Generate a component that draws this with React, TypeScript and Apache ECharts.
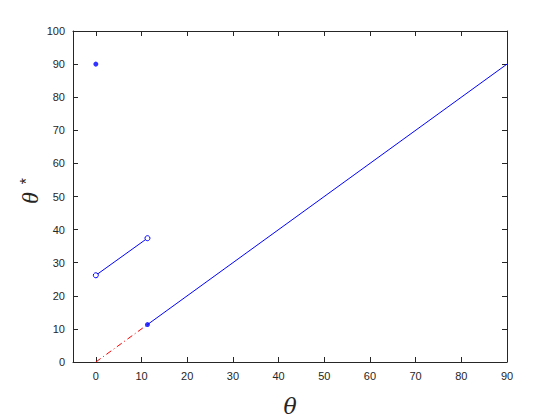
import React, { useEffect, useRef } from "react";
import * as echarts from "echarts";

const xTicks = [0, 10, 20, 30, 40, 50, 60, 70, 80, 90];
const yTicks = [0, 10, 20, 30, 40, 50, 60, 70, 80, 90, 100];
const isolatedPoint = [[0, 90]];
const openSegment = [[0, 26.2], [11.3, 37.4]];
const dashedSegment = [[0, 0], [11.3, 11.3]];
const mainLine = [[11.3, 11.3], [90, 90]];
const mainStart = [[11.3, 11.3]];

const AX = "#262626";
const BLUE = "#0000ff";
const FONT = "'Liberation Sans', Arial, Helvetica, sans-serif";

export default function App() {
  const ref = useRef<HTMLDivElement>(null);
  useEffect(() => {
    const chart = echarts.init(ref.current!, null, { renderer: "svg" });
    const baseAxis = {
      type: "value" as const,
      axisLine: { show: true, onZero: false, lineStyle: { color: AX, width: 1 } },
      axisTick: { show: true, inside: true, length: 5, lineStyle: { color: AX } },
      splitLine: { show: false },
    };
    chart.setOption({
      animation: false,
      backgroundColor: "#ffffff",
      grid: { left: 73, right: 53, top: 31, bottom: 58 },
      xAxis: [
        {
          ...baseAxis,
          position: "bottom",
          min: -5,
          max: 90,
          axisTick: { ...baseAxis.axisTick, customValues: xTicks },
          axisLabel: { customValues: xTicks, color: AX, fontSize: 11, fontFamily: FONT, margin: 8 },
        },
        {
          ...baseAxis,
          position: "top",
          min: -5,
          max: 90,
          axisTick: { ...baseAxis.axisTick, customValues: xTicks },
          axisLabel: { show: false },
        },
      ],
      yAxis: [
        {
          ...baseAxis,
          position: "left",
          min: 0,
          max: 100,
          interval: 10,
          axisTick: { ...baseAxis.axisTick, customValues: yTicks },
          axisLabel: { customValues: yTicks, color: AX, fontSize: 11, fontFamily: FONT, margin: 8 },
        },
        {
          ...baseAxis,
          position: "right",
          min: 0,
          max: 100,
          interval: 10,
          axisTick: { ...baseAxis.axisTick, customValues: yTicks },
          axisLabel: { show: false },
        },
      ],
      graphic: [
        {
          type: "text",
          x: 290,
          y: 406,
          style: {
            text: "θ",
            font: "italic 22px 'DejaVu Serif', 'Liberation Serif', serif",
            fill: AX,
            align: "center",
            verticalAlign: "middle",
          },
        },
        {
          type: "text",
          x: 30,
          y: 191,
          rotation: Math.PI / 2,
          style: {
            text: "{t|θ}{s|*}",
            fill: AX,
            align: "center",
            verticalAlign: "middle",
            rich: {
              t: { font: "italic 24px 'Liberation Serif', 'DejaVu Serif', serif", fill: AX },
              s: { font: "16px 'Liberation Sans', Arial, sans-serif", fill: AX, verticalAlign: "top", padding: [0, 0, 8, 8] },
            },
          },
        },
      ],
      series: [
        {
          type: "line",
          data: dashedSegment,
          showSymbol: false,
          lineStyle: { color: "#ff0000", width: 1, type: [6, 3, 1, 3] },
          silent: true,
        },
        {
          type: "line",
          data: mainLine,
          showSymbol: false,
          lineStyle: { color: BLUE, width: 1 },
          silent: true,
        },
        {
          type: "line",
          data: openSegment,
          symbol: "circle",
          symbolSize: 5,
          showSymbol: true,
          itemStyle: { color: "#ffffff", borderColor: BLUE, borderWidth: 1 },
          lineStyle: { color: BLUE, width: 1 },
          silent: true,
        },
        {
          type: "scatter",
          data: isolatedPoint.concat(mainStart),
          symbol: "circle",
          symbolSize: 5,
          itemStyle: { color: BLUE },
          silent: true,
        },
      ],
    });
    return () => chart.dispose();
  }, []);
  return <div ref={ref} style={{ width: 560, height: 420, position: "absolute", left: 0, top: 0 }} />;
}
